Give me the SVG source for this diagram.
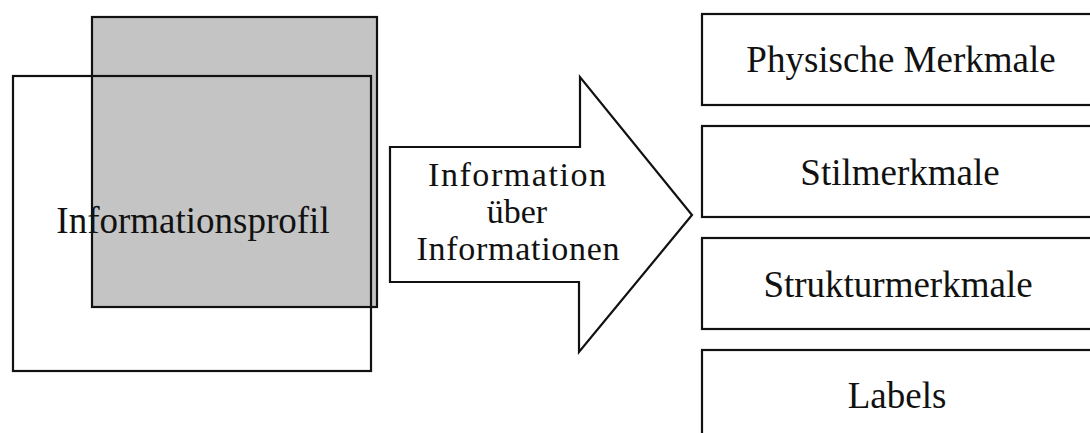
<svg xmlns="http://www.w3.org/2000/svg" width="1090" height="433" viewBox="0 0 1090 433">
<style>
.ln{fill:none;stroke:#111;stroke-width:2.2}
.t{font-family:"Liberation Serif","Times New Roman",serif;font-size:37px;fill:#111;text-anchor:middle}
.a{font-size:34px}
</style>
<rect width="1090" height="433" fill="#fff"/>
<g id="profil">
<rect x="92" y="17" width="285" height="290" fill="#c4c4c4" stroke="#111" stroke-width="2.2"/>
<rect class="ln" x="13" y="76" width="358" height="295"/>
<text class="t" x="193" y="233">Informationsprofil</text>
</g>
<g id="connectors">
<path class="ln" d="M390,147 L580,147 L580,77 L692,215 L579,352 L579,282 L390,282 Z" fill="#fff"/>
</g>
<g id="arrowlabel">
<text class="t a" x="517" y="186" textLength="178">Information</text>
<text class="t a" x="517" y="223">über</text>
<text class="t a" x="518" y="260" textLength="203">Informationen</text>
</g>
<g id="physisch">
<rect class="ln" x="702" y="14" width="400" height="91"/>
<text class="t" x="901" y="72">Physische Merkmale</text>
</g>
<g id="stil">
<rect class="ln" x="702" y="126" width="400" height="91"/>
<text class="t" x="900" y="185">Stilmerkmale</text>
</g>
<g id="struktur">
<rect class="ln" x="702" y="238" width="400" height="91"/>
<text class="t" x="898" y="297">Strukturmerkmale</text>
</g>
<g id="labels">
<rect class="ln" x="702" y="350" width="400" height="100"/>
<text class="t" x="897" y="408">Labels</text>
</g>
</svg>
